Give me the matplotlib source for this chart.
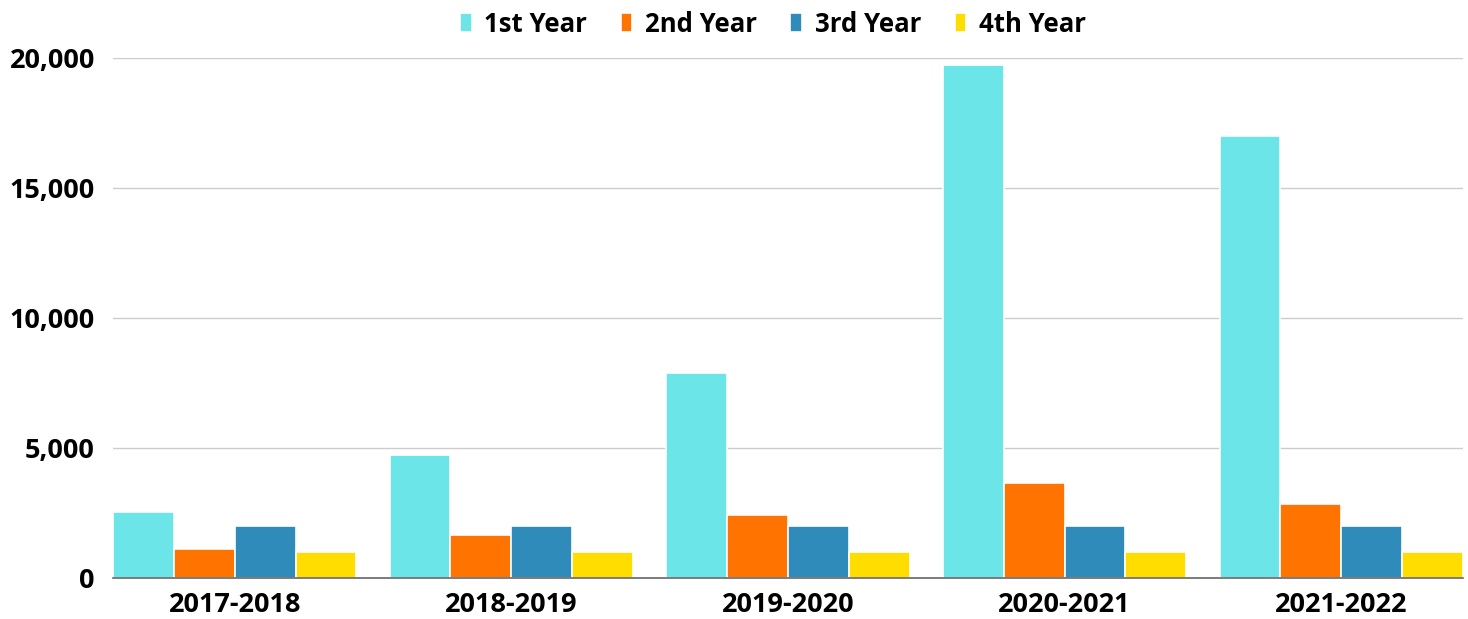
#grouped bar chart of enrolment by year level
import numpy as np
import matplotlib.pyplot as plt
from matplotlib.ticker import FuncFormatter

#Data
years = ['2017-2018', '2018-2019', '2019-2020', '2020-2021', '2021-2022']
series_names = ['1st Year', '2nd Year', '3rd Year', '4th Year']
first_year = [2550, 4730, 7900, 19720, 17000]
second_year = [1120, 1670, 2430, 3640, 2850]
third_year = [2000, 2000, 2000, 2000, 2000]
fourth_year = [1000, 1000, 1000, 1000, 1000]
colors = ['#6ce5e8', '#ff7300', '#2e8bba', '#ffdd00']

plt.rcParams['font.family'] = ['Open Sans', 'DejaVu Sans']

fig = plt.figure(figsize=(14.68, 6.19), dpi=100)
ax = fig.add_axes([113/1468, 1 - 578/619, 1350/1468, 520/619])

x = np.arange(len(years))
width = 0.22
all_series = [first_year, second_year, third_year, fourth_year]
for i, vals in enumerate(all_series):
    ax.bar(x + (i - 1.5) * width, vals, width, color=colors[i],
           edgecolor='white', linewidth=1.2, label=series_names[i], zorder=3)

ax.set_xlim(-0.44, 4.44)
ax.set_ylim(0, 20000)
ax.set_yticks([0, 5000, 10000, 15000, 20000])
ax.yaxis.set_major_formatter(FuncFormatter(lambda v, p: f'{int(v):,}'))
ax.set_xticks(x)
ax.set_xticklabels(years)
ax.tick_params(axis='both', length=0, labelsize=19.5)
ax.tick_params(axis='x', pad=10)
ax.tick_params(axis='y', pad=13)
for lab in ax.get_xticklabels() + ax.get_yticklabels():
    lab.set_fontweight('bold')

ax.grid(axis='y', color='#cccccc', linewidth=1, zorder=0)
for side in ['top', 'right', 'left']:
    ax.spines[side].set_visible(False)
ax.spines['bottom'].set_color('#666666')
ax.spines['bottom'].set_linewidth(1.2)
ax.spines['bottom'].set_zorder(4)

leg = fig.legend(loc='upper center', bbox_to_anchor=(773/1468, 1.02), ncol=4,
                 frameon=False, prop={'weight': 'bold', 'size': 18.5},
                 handlelength=0.45, handleheight=0.75, handletextpad=0.5,
                 columnspacing=1.3)

plt.savefig('out.png', dpi=100)
